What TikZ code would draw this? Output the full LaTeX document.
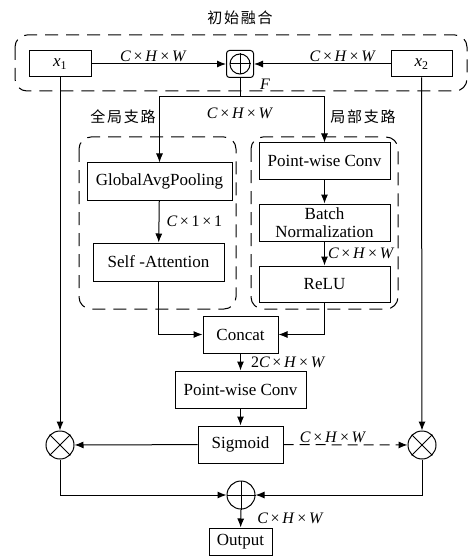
\documentclass[tikz,border=0pt]{standalone}
\usepackage{fontspec}
\setmainfont{Liberation Serif}
\newfontfamily\cjk[LetterSpace=12]{Noto Sans CJK SC}
\usetikzlibrary{arrows.meta,positioning,calc}
\newcommand{\dimchw}{\textit{C}\,×\,\textit{H}\,×\,\textit{W}}

\begin{document}
\begin{tikzpicture}[x=1pt,y=-1pt,line width=1pt,font=\fontsize{17}{17}\selectfont,
  >={Latex[length=9pt,width=7pt]},
  blk/.style={draw,minimum height=37,inner sep=2pt},
  dimlbl/.style={font=\fontsize{16}{16}\selectfont,inner sep=2pt},
  cnlbl/.style={font=\cjk\fontsize{15}{15}\selectfont},
  grp/.style={draw,dash pattern=on 13pt off 8pt,rounded corners=12pt},
  op/.style={draw,circle,minimum size=28,inner sep=0pt}]
  \useasboundingbox (0,0) rectangle (475,556);
  \node[cnlbl] (ttl) at (240,18) {初始融合};
  \draw[grp] (15,35) rectangle (467,91);
  \node[blk,minimum width=62,minimum height=26] (x1) at (60,64) {\textit{x}\textsubscript{1}};
  \node[blk,minimum width=61,minimum height=26] (x2) at (421.5,64) {\textit{x}\textsubscript{2}};
  \node[draw,rounded corners=3pt,minimum size=27] (addF) at (240,64) {};
  \node[op,minimum size=20] (addFc) at (240,64) {};
  \draw (addFc.north) -- (addFc.south) (addFc.west) -- (addFc.east);
  \draw[->] (x1) -- node[above,dimlbl,pos=0.46]{\dimchw} (addF);
  \draw[->] (x2) -- node[above,dimlbl,pos=0.35]{\dimchw} (addF);
  \node[dimlbl] (flbl) at (265,84) {\textit{F}};
  \node[cnlbl] (glbl) at (123,117) {全局支路};
  \node[cnlbl] (llbl) at (363,117) {局部支路};
  \node[dimlbl] (fdim) at (240,113) {\dimchw};
  \draw[grp] (79,137) rectangle (236,309);
  \draw[grp] (251,137) rectangle (398,309);
  \node[blk,minimum width=145] (gap) at (159.5,181.5) {GlobalAvgPooling};
  \node[blk,minimum width=131,minimum height=38] (satt) at (158.5,262) {Self -Attention};
  \node[blk,minimum width=131,minimum height=36] (pwc1) at (324.5,161) {Point-wise Conv};
  \node[blk,minimum width=131,align=center,font=\fontsize{17}{17.5}\selectfont] (bn) at (324.5,222.5) {Batch\\Normalization};
  \node[blk,minimum width=131,minimum height=36] (relu) at (324.5,284) {ReLU};
  \node[blk,minimum width=75] (concat) at (240.5,334.5) {Concat};
  \node[blk,minimum width=131] (pwc2) at (240.5,389.5) {Point-wise Conv};
  \node[blk,minimum width=85] (sig) at (240.5,444.5) {Sigmoid};
  \node[op] (mulL) at (60,445) {};
  \node[op] (mulR) at (422,445) {};
  \node[op] (addO) at (241,495) {};
  \node[blk,minimum width=63,minimum height=27] (out) at (240.5,541.5) {Output};
  \foreach \m in {mulL,mulR} \draw (\m.north west) -- (\m.south east) (\m.north east) -- (\m.south west);
  \draw (addO.north) -- (addO.south) (addO.west) -- (addO.east);
  \coordinate (spl) at (240,97);
  \draw[->] (addF.south) -- (spl) -| (gap.north);
  \draw[->] (spl) -| (pwc1.north);
  \draw[->] (gap) -- node[right,dimlbl,xshift=5pt]{\textit{C}\,×\,1\,×\,1} (satt);
  \draw[->] (pwc1) -- (bn);
  \draw[->] (bn) -- node[right,dimlbl,xshift=1pt]{\dimchw} (relu);
  \draw[->] (satt.south) |- (concat.west);
  \draw[->] (relu.south) |- (concat.east);
  \draw[->] (concat) -- node[right,dimlbl,xshift=8pt]{2\textit{C}\,×\,\textit{H}\,×\,\textit{W}} (pwc2);
  \draw[->] (pwc2) -- (sig);
  \draw[->] (sig) -- (mulL);
  \draw[->,dash pattern=on 10pt off 6pt] (sig) -- node[above,dimlbl,pos=0.4]{\dimchw} (mulR);
  \draw[->] (x1.south) -- (mulL.north);
  \draw[->] (x2.south) -- (mulR.north);
  \draw[->] (mulL.south) |- (addO.west);
  \draw[->] (mulR.south) |- (addO.east);
  \draw[->] (addO) -- node[right,dimlbl,xshift=14pt]{\dimchw} (out);
\end{tikzpicture}
\end{document}
